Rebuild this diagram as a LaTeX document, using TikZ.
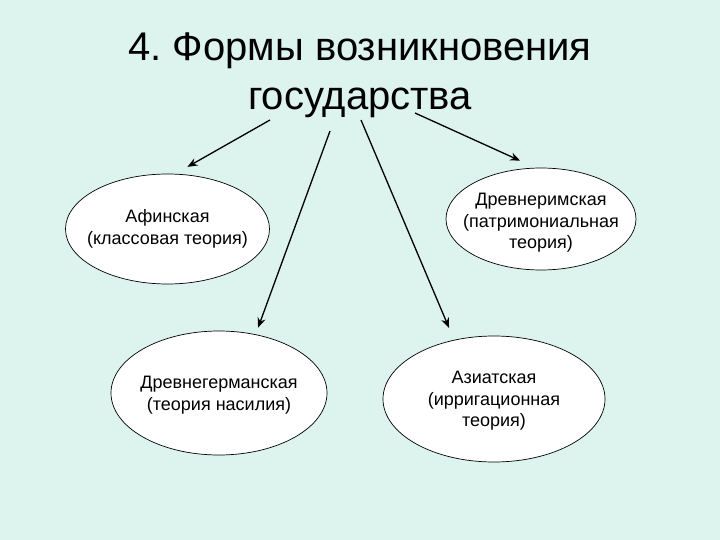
\documentclass[tikz,border=0pt]{standalone}
\usepackage{fontspec}
\setmainfont{Liberation Sans}
\usetikzlibrary{arrows.meta,shapes.geometric}
\definecolor{slidebg}{RGB}{220,243,238}
\frenchspacing

\begin{document}
\begin{tikzpicture}[
    x=1pt, y=-1pt,
    form/.style={
        ellipse,
        draw=black,
        line width=0.7pt,
        fill=white,
        inner sep=0pt
    },
    formtext/.style={
        align=center,
        font=\fontsize{18}{21.6}\selectfont
    },
    arrow/.style={-{Stealth[length=10pt,width=8pt]}, line width=1.3pt},
]

% === BACKGROUND ===
\fill[slidebg] (0,0) rectangle (720,540);
\useasboundingbox (0,0) rectangle (720,540);

% Title
\node[align=center, font=\fontsize{40}{49}\selectfont] (title) at (360,75)
{4. Формы возникновения\\государства};

% Forms
\node[form, minimum width=204pt, minimum height=110pt] (afin) at (167.5,229) {};
\node[form, minimum width=190pt, minimum height=102pt] (rim) at (541,219) {};
\node[form, minimum width=216pt, minimum height=124pt] (german) at (219,393) {};
\node[form, minimum width=222pt, minimum height=126pt] (asia) at (494,399) {};

\node[formtext] (afin_txt) at (167.5,229) {Афинская\\(классовая теория)};
\node[formtext] (rim_txt) at (541,223) {Древнеримская\\(патримониальная\\теория)};
\node[formtext] (german_txt) at (219,395) {Древнегерманская\\(теория насилия)};
\node[formtext] (asia_txt) at (494,401) {Азиатская\\(ирригационная\\теория)};

% Arrows
\coordinate (s1) at (270,120);
\coordinate (s2) at (330,131);
\coordinate (s3) at (361,120);
\coordinate (s4) at (415,113);

\draw[arrow, shorten >=14pt] (s1) -- (afin.82);
\draw[arrow, shorten >=7pt] (s2) -- (german.58);
\draw[arrow, shorten >=13pt] (s3) -- (asia.124);
\draw[arrow, shorten >=17pt] (s4) -- (rim.96);

\end{tikzpicture}
\end{document}
